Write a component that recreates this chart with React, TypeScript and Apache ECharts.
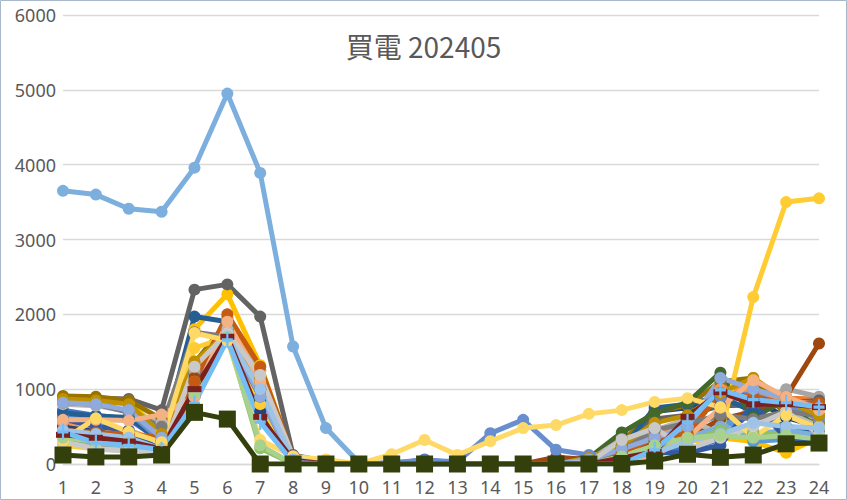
import React, { useEffect, useRef } from "react";
import * as echarts from "echarts";

const hours = ["1","2","3","4","5","6","7","8","9","10","11","12","13","14","15","16","17","18","19","20","21","22","23","24"];
const yTicks = { min: 0, max: 6000, step: 1000 };
const titleText = "買電 202405";

const s01 = [720,650,600,300,1200,1800,1000,60,20,0,0,60,10,0,0,0,90,120,180,200,330,720,450,420];
const s02 = [480,380,300,200,1050,1950,1300,80,20,0,0,0,0,0,0,0,20,120,300,450,1050,980,880,870];
const s03 = [300,230,180,150,1250,1750,1150,60,10,0,0,0,0,0,0,0,50,350,520,300,450,780,1000,900];
const s04 = [850,820,820,450,1800,2270,1320,100,20,0,0,0,0,0,0,0,0,50,200,300,350,300,150,350];
const s05 = [650,600,380,200,1000,1800,800,40,0,0,0,0,0,0,0,0,50,200,350,500,650,300,330,350];
const s06 = [420,330,300,180,1100,1800,900,30,0,0,0,0,0,0,0,0,30,150,300,400,480,400,420,350];
const s07 = [500,450,330,150,900,1700,700,20,0,0,0,0,0,0,0,0,100,230,700,750,900,870,620,500];
const s08 = [430,350,300,220,1150,1900,1250,70,20,0,0,0,0,0,0,90,60,100,300,350,600,700,900,1610];
const s09 = [880,880,870,720,2330,2400,1970,120,30,0,0,0,0,0,0,0,20,250,600,650,780,790,820,850];
const s10 = [910,900,850,600,1350,1900,1100,80,10,0,0,0,0,0,0,0,50,300,700,780,1100,1150,650,550];
const s11 = [680,640,620,300,1970,1900,1000,60,0,0,0,0,0,0,0,0,60,200,750,800,900,700,500,450];
const s12 = [350,300,280,200,1100,1800,850,40,0,0,0,0,0,0,0,0,80,420,680,820,1220,630,850,450];
const s13 = [850,820,700,300,1000,1750,1000,70,30,0,20,50,30,410,590,190,120,150,350,500,900,950,800,600];
const s14 = [560,500,450,300,1000,1950,1250,80,10,0,0,0,0,0,0,0,30,100,400,500,1000,1000,850,800];
const s15 = [800,780,700,550,1100,1800,1200,80,10,0,0,0,0,0,0,0,50,330,450,600,400,500,700,500];
const s16 = [250,200,180,250,1550,1700,800,60,0,0,0,0,0,0,0,0,30,100,200,300,380,2230,3500,3550];
const s17 = [3650,3600,3410,3370,3960,4950,3890,1570,480,20,0,0,0,0,0,0,0,50,200,350,500,400,450,380];
const s18 = [380,280,250,180,1000,1700,210,0,0,0,0,0,0,0,0,0,0,30,200,300,450,430,380,320];
const s19 = [600,500,450,180,1000,1700,900,40,0,0,0,0,0,0,0,0,0,50,150,150,250,800,350,300];
const s20 = [450,420,400,350,1100,2000,1300,100,10,0,0,0,0,0,0,0,20,150,350,400,950,900,800,820];
const s21 = [820,800,690,500,1760,1700,1000,60,0,0,0,0,0,0,0,0,30,200,450,550,650,600,700,650];
const s22 = [870,850,800,400,1370,1750,1150,60,0,0,0,0,0,0,0,0,80,250,550,650,950,1150,850,650];
const s23 = [820,800,720,350,900,1750,900,50,0,0,0,0,0,0,0,0,60,200,350,500,1150,1000,880,750];
const s24 = [590,590,580,660,900,1900,1100,50,10,0,0,0,0,0,0,0,0,60,120,350,750,1120,900,720];
const s25 = [300,200,170,150,1300,1750,1190,100,20,0,0,0,0,0,0,0,20,320,480,200,350,500,700,400];
const s26 = [320,610,430,290,1750,1650,320,100,60,0,130,320,120,305,480,520,670,720,830,880,760,360,650,480];
const s27 = [450,400,350,200,950,1700,1000,60,0,0,0,0,0,0,0,0,0,50,150,300,400,550,500,480];
const s28 = [350,300,280,200,950,1700,250,0,0,0,0,0,0,0,0,0,0,100,250,350,380,350,380,330];
const s29 = [390,350,300,200,1000,1700,630,50,0,0,0,0,0,0,0,0,0,80,160,630,960,800,800,760];
const s30 = [430,280,250,190,810,1660,560,20,0,0,0,0,0,0,0,0,0,0,190,560,990,860,820,760];
const s31 = [120,95,95,120,690,600,0,0,0,0,0,0,0,0,0,0,0,0,40,130,90,120,270,280];

const seriesData = [s01,s02,s03,s04,s05,s06,s07,s08,s09,s10,s11,s12,s13,s14,s15,s16,s17,s18,s19,s20,s21,s22,s23,s24,s25,s26,s27,s28,s29,s30,s31];
const seriesNames = seriesData.map((_, i) => "系列" + (i + 1));

const colors = [
  "#4472C4","#ED7D31","#A5A5A5","#FFC000","#5B9BD5","#70AD47",
  "#264478","#9E480E","#636363","#997300","#255E91","#43682B",
  "#698ED0","#F1975A","#B7B7B7","#FFCD33","#7CAFDD","#8CC168",
  "#335AA1","#C55A11","#7C7C7C","#BF9000","#8FAADC","#F4B183",
  "#C9C9C9","#FFD966","#9DC3E6","#A9D18E","#7B1F1F","#75BDF7","#33400C"
];

const plusPath = "path://M4,0h2v10h-2zM0,4h10v2h-10z";

export default function App() {
  const ref = useRef<HTMLDivElement>(null);
  useEffect(() => {
    if (!ref.current) return;
    const chart = echarts.init(ref.current, null, { renderer: "svg" });
    const series = seriesData.map((d, i) => {
      let symbol: any = "circle";
      let symbolSize: any = 12;
      let width = 5;
      if (i === 28) { symbol = "rect"; symbolSize = [14, 6]; }
      if (i === 29) { symbol = plusPath; symbolSize = [11, 16]; }
      if (i === 30) { symbol = "rect"; symbolSize = 17; width = 5; }
      return {
        name: seriesNames[i],
        type: "line",
        data: d,
        symbol,
        symbolSize,
        showSymbol: true,
        lineStyle: { width, color: colors[i] },
        itemStyle: { color: colors[i] },
        emphasis: { disabled: true },
        z: 2,
      };
    });
    chart.setOption({
      animation: false,
      backgroundColor: "#ffffff",
      title: {
        text: titleText,
        left: "center",
        top: 27,
        textStyle: { fontFamily: "Noto Sans CJK JP", fontSize: 28, fontWeight: "normal", color: "#595959" },
      },
      grid: { left: 63, right: 28, top: 15, bottom: 36 },
      xAxis: {
        type: "category",
        data: hours,
        boundaryGap: false,
        axisLine: { show: true, lineStyle: { color: "#D9D9D9", width: 1.3 } },
        axisTick: { show: false },
        axisLabel: { interval: 0, fontSize: 18, color: "#595959", margin: 14, fontFamily: "Noto Sans" },
      },
      yAxis: {
        type: "value",
        min: yTicks.min,
        max: yTicks.max,
        interval: yTicks.step,
        axisLine: { show: false },
        axisTick: { show: false },
        splitLine: { lineStyle: { color: "#D9D9D9", width: 1.3 } },
        axisLabel: {
          fontSize: 18,
          color: "#595959",
          margin: 7,
          fontFamily: "Noto Sans",
          formatter: (v: number) => String(v),
        },
      },
      graphic: [
        {
          type: "rect",
          shape: { x: 0.5, y: 0.5, width: 846, height: 499 },
          style: { fill: "none", stroke: "#A9B7CB", lineWidth: 1 },
          silent: true,
        },
      ],
      series,
    });
    return () => chart.dispose();
  }, []);
  return <div ref={ref} style={{ position: "fixed", left: 0, top: 0, width: 847, height: 500 }} />;
}
